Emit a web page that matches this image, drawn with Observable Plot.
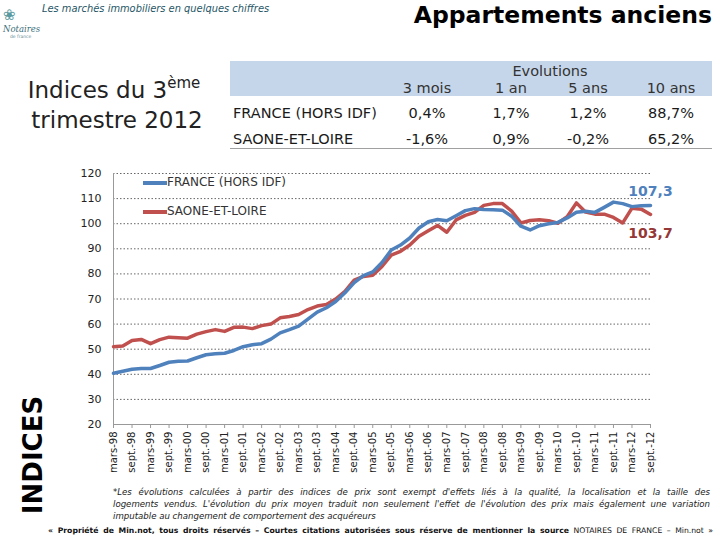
<!DOCTYPE html>
<html>
<head>
<meta charset="utf-8">
<script src="https://cdn.jsdelivr.net/npm/d3@7"></script>
<script src="https://cdn.jsdelivr.net/npm/@observablehq/plot@0.6"></script>
<style>
  html, body { margin:0; padding:0; background:#fff; }
  #page { position:relative; width:720px; height:540px; overflow:hidden; font-family:"DejaVu Sans", Verdana, sans-serif; color:#222; }
  .abs { position:absolute; white-space:nowrap; }
  .c { position:absolute; white-space:nowrap; transform:translate(-50%,-50%); }
  .l { position:absolute; white-space:nowrap; transform:translate(0,-50%); }
  #chart { position:absolute; left:0; top:165px; }
  .foot { position:absolute; left:113px; width:597px; font-size:8.6px; font-style:italic; color:#222; text-align:justify; text-align-last:justify; white-space:nowrap; }
</style>
</head>
<body>
<div id="page">
  <!-- logo -->
  <div class="abs" style="left:3px;top:6px;font-family:'DejaVu Serif',serif;font-size:15px;color:#5a9aa0;">&#x2740;</div>
  <div class="abs" style="left:3px;top:24px;font-family:'DejaVu Serif',serif;font-size:8.5px;font-style:italic;color:#3d6f7a;">Notaires</div>
  <div class="abs" style="left:10px;top:34px;font-family:'DejaVu Sans',sans-serif;font-size:4.5px;color:#6a8f96;">de france</div>

  <div class="abs" style="left:42px;top:3px;font-size:9.9px;font-style:italic;color:#1f5666;">Les marchés immobiliers en quelques chiffres</div>
  <div class="abs" style="right:8px;top:1px;font-size:23.5px;font-weight:bold;color:#000;">Appartements anciens</div>

  <div class="c" style="left:114px;top:90px;font-size:23px;color:#222;">Indices du 3<sup style="font-size:15px;vertical-align:10px;line-height:0;">ème</sup></div>
  <div class="c" style="left:117px;top:120px;font-size:23px;color:#222;">trimestre 2012</div>

  <div id="tablebox"></div>

  <div id="chart"></div>

  <!-- legend -->
  <div class="abs" style="left:143px;top:181px;width:24px;height:4px;background:#4F81BD;"></div>
  <div class="abs" style="left:167px;top:175px;font-size:12px;color:#333;">FRANCE (HORS IDF)</div>
  <div class="abs" style="left:143px;top:210px;width:24px;height:4px;background:#C0504D;"></div>
  <div class="abs" style="left:167px;top:204px;font-size:12px;color:#333;">SAONE-ET-LOIRE</div>

  <div class="abs" style="left:33px;top:455px;transform:translate(-50%,-50%) rotate(-90deg);font-size:26px;font-weight:bold;color:#000;">INDICES</div>

  <div class="foot" style="top:487px;">*Les évolutions calculées à partir des indices de prix sont exempt d'effets liés à la qualité, la localisation et la taille des</div>
  <div class="foot" style="top:499px;">logements vendus. L'évolution du prix moyen traduit non seulement l'effet de l'évolution des prix mais également une variation</div>
  <div class="foot" style="top:511px;text-align-last:left;">imputable au changement de comportement des acquéreurs</div>
  <div class="abs" style="left:48px;width:665px;top:526px;font-size:7.7px;color:#111;text-align:justify;text-align-last:justify;"><b>« Propriété de Min.not, tous droits réservés – Courtes citations autorisées sous réserve de mentionner la source</b> NOTAIRES DE FRANCE – Min.not »</div>
</div>

<script>
// ---- Data ----
const seriesNames = ["FRANCE (HORS IDF)", "SAONE-ET-LOIRE"];
const seriesColors = ["#4F81BD", "#C0504D"];
const labelColors = ["#4F81BD", "#953735"];

// quarterly index values, mars-98 (T1 1998) ... sept-12 (T3 2012)
const france = [
  40.4, 41.2, 42.0, 42.3,
  42.3, 43.5, 44.8, 45.2,
  45.3, 46.6, 47.8, 48.2,
  48.4, 49.5, 51.0, 51.8,
  52.2, 54.0, 56.5, 57.8,
  59.2, 62.0, 64.8, 66.5,
  69.0, 72.5, 76.5, 79.3,
  80.8, 84.5, 89.5, 91.5,
  94.3, 98.3, 100.8, 101.7,
  101.2, 103.2, 105.2, 106.0,
  105.7, 105.6, 105.4, 103.0,
  99.0, 97.5, 99.2, 100.0,
  100.5, 102.3, 104.6, 105.0,
  104.5, 106.5, 108.6, 108.0,
  106.8, 107.2, 107.3
];
const saone = [
  51.0, 51.3, 53.5, 53.9,
  52.2, 53.8, 54.8, 54.6,
  54.4, 56.0, 57.0, 57.8,
  57.1, 58.7, 58.8, 58.2,
  59.4, 60.0, 62.5, 63.0,
  63.8, 65.8, 67.2, 67.8,
  70.0, 73.0, 77.5, 79.0,
  79.5, 83.0, 87.5, 89.0,
  91.5, 95.0, 97.2, 99.3,
  96.6, 101.5, 103.3, 104.5,
  107.3, 108.0, 108.0, 105.0,
  100.3, 101.3, 101.6, 101.2,
  100.2, 102.8, 108.3, 104.6,
  103.8, 103.8, 102.5, 100.3,
  106.2, 105.8, 103.7
];
const endLabels = ["107,3", "103,7"];

const tickLabels = ["mars-98","sept.-98","mars-99","sept.-99","mars-00","sept.-00","mars-01","sept.-01",
  "mars-02","sept.-02","mars-03","sept.-03","mars-04","sept.-04","mars-05","sept.-05","mars-06","sept.-06",
  "mars-07","sept.-07","mars-08","sept.-08","mars-09","sept.-09","mars-10","sept.-10","mars-11","sept.-11",
  "mars-12","sept.-12"];
const yTicks = [20, 30, 40, 50, 60, 70, 80, 90, 100, 110, 120];

// table data
const tableTitle = "Evolutions";
const tableCols = ["3 mois", "1 an", "5 ans", "10 ans"];
const tableRows = ["FRANCE (HORS IDF)", "SAONE-ET-LOIRE"];
const tableVals = [["0,4%", "1,7%", "1,2%", "88,7%"], ["-1,6%", "0,9%", "-0,2%", "65,2%"]];

// ---- Table (HTML layout) ----
{
  const colX = [427, 511, 588, 671];
  const rowY = [113, 139];
  let h = '<div class="abs" style="left:230px;top:61px;width:482px;height:35px;background:#c6d6ea;"></div>';
  h += `<div class="c" style="left:550px;top:71px;font-size:14.5px;color:#333;">${tableTitle}</div>`;
  tableCols.forEach((c, k) => { h += `<div class="c" style="left:${colX[k]}px;top:88px;font-size:14.5px;color:#333;">${c}</div>`; });
  tableRows.forEach((r, ri) => {
    h += `<div class="l" style="left:233px;top:${rowY[ri]}px;font-size:14.5px;color:#1a1a1a;">${r}</div>`;
    tableVals[ri].forEach((v, k) => { h += `<div class="c" style="left:${colX[k]}px;top:${rowY[ri]}px;font-size:14.5px;color:#1a1a1a;">${v}</div>`; });
  });
  h += '<div class="abs" style="left:230px;top:148px;width:482px;height:1px;background:#a0a0a0;"></div>';
  document.getElementById("tablebox").innerHTML = h;
}

// ---- Chart ----
const series = [france, saone];
const data = series.flatMap((arr, s) => arr.map((v, i) => ({i, v, s: seriesNames[s]})));
const last = series.map((arr, s) => ({i: arr.length - 1, v: arr[arr.length - 1], label: endLabels[s], color: labelColors[s]}));

const chart = Plot.plot({
  width: 720,
  height: 310,
  marginLeft: 113,
  marginRight: 70,
  marginTop: 8,
  marginBottom: 51,
  style: {fontFamily: "DejaVu Sans, sans-serif", fontSize: "10px", color: "#222", background: "transparent"},
  x: {type: "linear", domain: [0, france.length - 1]},
  y: {domain: [20, 120]},
  marks: [
    Plot.gridY(yTicks.slice(1), {stroke: "#666", strokeOpacity: 1, strokeDasharray: "1.5,2"}),
    Plot.axisY({ticks: yTicks, tickSize: 0, tickPadding: 12, fontSize: 11, label: null}),
    Plot.axisX({ticks: tickLabels.map((_, k) => 2 * k), tickFormat: d => tickLabels[d / 2], tickRotate: -90,
      tickSize: 4, tickPadding: 3, label: null, fontSize: 10, stroke: "#999"}),
    Plot.ruleX([0], {stroke: "#999"}),
    Plot.ruleY([20], {stroke: "#999"}),
    Plot.line(data.filter(d => d.s === seriesNames[1]), {x: "i", y: "v", stroke: seriesColors[1], strokeWidth: 3.5}),
    Plot.line(data.filter(d => d.s === seriesNames[0]), {x: "i", y: "v", stroke: seriesColors[0], strokeWidth: 3.5}),
    Plot.text([last[0]], {x: "i", y: "v", text: "label", fill: "color", dy: -14, fontSize: 14, fontWeight: "bold", textAnchor: "middle"}),
    Plot.text([last[1]], {x: "i", y: "v", text: "label", fill: "color", dy: 19, fontSize: 14, fontWeight: "bold", textAnchor: "middle"})
  ]
});
document.getElementById("chart").appendChild(chart);
</script>
</body>
</html>
